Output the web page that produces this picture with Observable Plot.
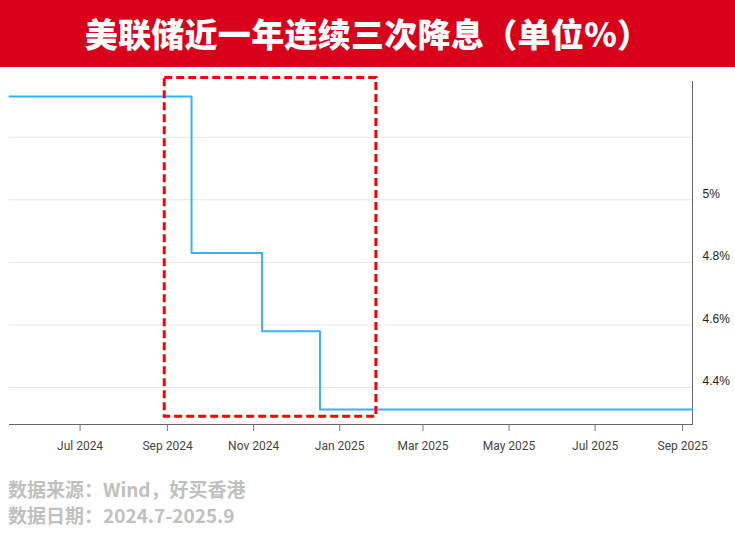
<!DOCTYPE html>
<html>
<head>
<meta charset="utf-8">
<script src="https://cdn.jsdelivr.net/npm/d3@7"></script>
<script src="https://cdn.jsdelivr.net/npm/@observablehq/plot@0.6"></script>
<style>
  html, body { margin: 0; padding: 0; background: #fff; }
  #wrap { width: 735px; height: 537px; position: relative; overflow: hidden; }
  #banner {
    height: 67px; background: #d9001b; color: #fff;
    font-family: "Noto Sans CJK SC", sans-serif; font-weight: 900;
    font-size: 33px; line-height: 67px; text-align: center; letter-spacing: 0.3px;
  }
  #chart svg { display: block; }
  #caption {
    padding: 9px 0 0 8px; color: #c0c0c0;
    font-family: "Noto Sans CJK SC", sans-serif; font-weight: 700;
    font-size: 19px; line-height: 26px;
  }
</style>
</head>
<body>
<div id="wrap">
  <div id="banner">美联储近一年连续三次降息（单位%）</div>
  <div id="chart"></div>
  <div id="caption">数据来源：Wind，好买香港<br>数据日期：2024.7-2025.9</div>
</div>
<script>
// Fed funds (effective) rate, step changes
const changeDates = ["2024-05-12", "2024-09-18", "2024-11-07", "2024-12-18", "2025-09-08"];
const rates = [5.33, 4.83, 4.58, 4.33, 4.33];

// axis setup
const xDomain = ["2024-05-12", "2025-09-08"];
const yDomain = [4.282, 5.378];
const xTickDates = ["2024-07-01", "2024-09-01", "2024-11-01", "2025-01-01", "2025-03-01", "2025-05-01", "2025-07-01", "2025-09-01"];
const yTickValues = [4.4, 4.6, 4.8, 5];
const yGridValues = [4.4, 4.6, 4.8, 5, 5.2];

// highlighted region (three cuts)
const highlightX = ["2024-08-30", "2025-01-27"];
const highlightY = [4.307, 5.389];

const parse = d3.utcParse("%Y-%m-%d");
const series = changeDates.map((d, i) => ({date: parse(d), rate: rates[i]}));
const highlight = [{x1: parse(highlightX[0]), x2: parse(highlightX[1]), y1: highlightY[0], y2: highlightY[1]}];

const chart = Plot.plot({
  width: 735,
  height: 400,
  marginLeft: 9,
  marginRight: 43,
  marginTop: 14,
  marginBottom: 43,
  style: {fontFamily: "Roboto, sans-serif", fontSize: "12px", background: "#fff"},
  x: {type: "utc", domain: xDomain.map(parse)},
  y: {domain: yDomain},
  marks: [
    Plot.gridY(yGridValues, {stroke: "#e6e6e6", strokeOpacity: 1}),
    Plot.frame({anchor: "bottom", stroke: "#666"}),
    Plot.frame({anchor: "right", stroke: "#666"}),
    Plot.axisX(xTickDates.map(parse), {
      tickSize: 7, tickPadding: 10, stroke: "#777", fill: "#444",
      tickFormat: d3.utcFormat("%b %Y"), label: null
    }),
    Plot.axisY(yTickValues, {
      anchor: "right", tickSize: 0, tickPadding: 10, dy: -6,
      tickFormat: d => `${d}%`, label: null, fill: "#222",
      fontFamily: "'Liberation Sans', Arial, sans-serif", fontSize: 12
    }),
    Plot.line(series, {x: "date", y: "rate", curve: "step-after", stroke: "#38b0ff", strokeWidth: 2}),
    Plot.rect(highlight, {x1: "x1", x2: "x2", y1: "y1", y2: "y2", fill: "none", stroke: "#ff0000", strokeWidth: 3, strokeDasharray: "8,4"})
  ]
});
document.getElementById("chart").appendChild(chart);
</script>
</body>
</html>
